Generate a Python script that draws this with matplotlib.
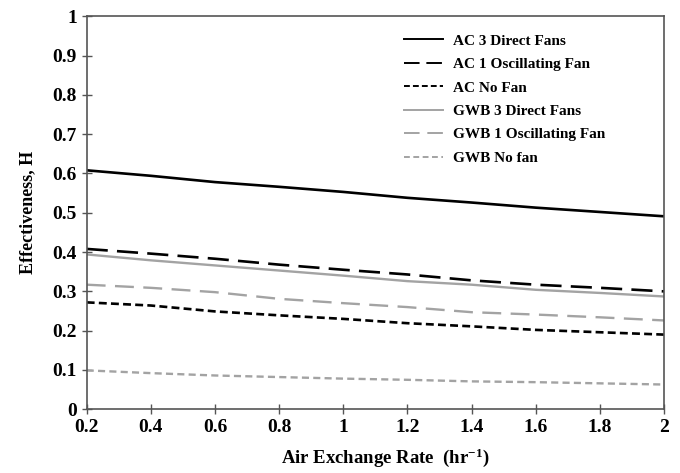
import matplotlib.pyplot as plt
import matplotlib as mpl

mpl.rc('font', family=['Liberation Serif', 'DejaVu Serif'], weight='bold')
mpl.rc('axes', labelweight='bold')
mpl.rc('mathtext', fontset='custom', rm='Liberation Serif:bold',
       it='Liberation Serif:italic:bold', bf='Liberation Serif:bold')

# air exchange rate (1/hr)
rate = [0.2, 0.4, 0.6, 0.8, 1.0, 1.2, 1.4, 1.6, 1.8, 2.0]

# effectiveness
ac_3direct = [0.608, 0.594, 0.578, 0.566, 0.553, 0.538, 0.526, 0.513, 0.502, 0.491]
ac_1osc = [0.408, 0.396, 0.383, 0.368, 0.355, 0.343, 0.328, 0.317, 0.309, 0.300]
ac_nofan = [0.272, 0.264, 0.249, 0.239, 0.230, 0.219, 0.211, 0.202, 0.196, 0.190]
gwb_3direct = [0.394, 0.379, 0.366, 0.353, 0.340, 0.326, 0.317, 0.304, 0.296, 0.287]
gwb_1osc = [0.317, 0.309, 0.298, 0.281, 0.270, 0.260, 0.247, 0.241, 0.234, 0.226]
gwb_nofan = [0.099, 0.092, 0.086, 0.082, 0.078, 0.075, 0.071, 0.069, 0.066, 0.063]

labels = ['AC 3 Direct Fans', 'AC 1 Oscillating Fan', 'AC No Fan',
          'GWB 3 Direct Fans', 'GWB 1 Oscillating Fan', 'GWB No fan']

grey = '#a3a3a3'

fig = plt.figure(figsize=(6.8, 4.73), dpi=100)
ax = fig.add_axes([0.1275, 0.1347, 0.849, 0.831])

ax.plot(rate, ac_3direct, color='k', lw=1.9, label=labels[0])
ax.plot(rate, ac_1osc, color='k', lw=1.9, dashes=(8, 3.5), label=labels[1])
ax.plot(rate, ac_nofan, color='k', lw=1.9, dashes=(3, 1.6), label=labels[2])
ax.plot(rate, gwb_3direct, color=grey, lw=1.7, label=labels[3])
ax.plot(rate, gwb_1osc, color=grey, lw=1.7, dashes=(8, 4), label=labels[4])
ax.plot(rate, gwb_nofan, color=grey, lw=1.7, dashes=(3, 1.8), label=labels[5])

ax.set_xlim(0.2, 2.0)
ax.set_ylim(0, 1)
ax.set_xticks([0.2, 0.4, 0.6, 0.8, 1.0, 1.2, 1.4, 1.6, 1.8, 2.0])
ax.set_xticklabels(['0.2', '0.4', '0.6', '0.8', '1', '1.2', '1.4', '1.6', '1.8', '2'])
ax.set_yticks([0, 0.1, 0.2, 0.3, 0.4, 0.5, 0.6, 0.7, 0.8, 0.9, 1])
ax.set_yticklabels(['0', '0.1', '0.2', '0.3', '0.4', '0.5', '0.6', '0.7', '0.8', '0.9', '1'])
ax.tick_params(direction='inout', length=7, width=1, labelsize=14, color='#555555')
for s in ax.spines.values():
    s.set_color('#555555')
    s.set_linewidth(1.2)

ax.set_xlabel('Air Exchange Rate  (hr$^{-1}$)', fontsize=13.5)
ax.xaxis.set_label_coords(0.517, -0.095)
ax.set_ylabel('Effectiveness, H', fontsize=13, labelpad=12)

leg = ax.legend(loc='upper left', bbox_to_anchor=(0.549, 0.955), frameon=False,
                fontsize=11, borderpad=0, borderaxespad=0,
                handlelength=2.55, handletextpad=0.65, labelspacing=0.64)
for h in leg.get_lines():
    h.set_linewidth(1.4)

fig.savefig('out.png', dpi=100)
